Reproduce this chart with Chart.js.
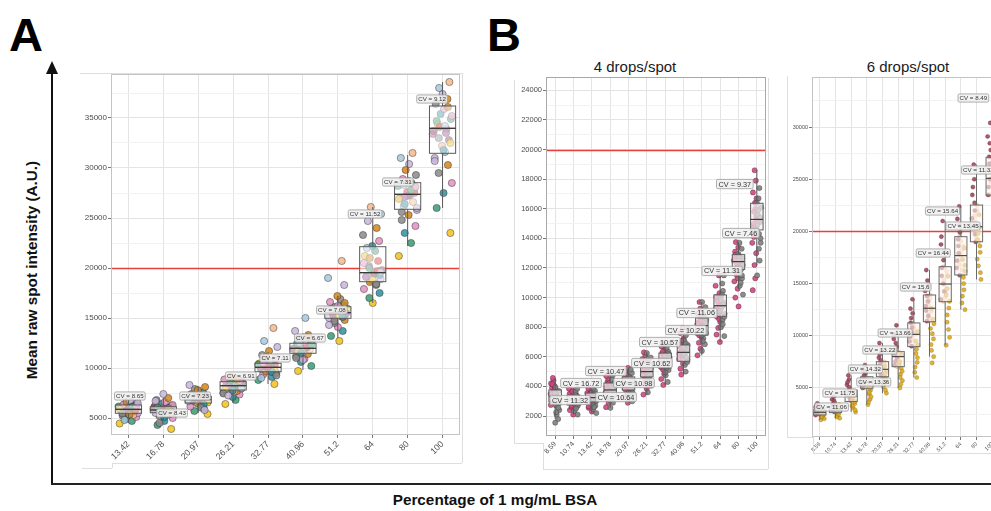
<!DOCTYPE html>
<html>
<head>
<meta charset="utf-8">
<script src="https://cdn.jsdelivr.net/npm/chart.js@4.4.0/dist/chart.umd.min.js"></script>
<style>
  body { margin: 0; width: 991px; height: 511px; overflow: hidden; background: #fff; position: relative;
         font-family: "Liberation Sans", Arial, sans-serif; }
  canvas, .txt, .ln { position: absolute; }
  .big { font-weight: bold; font-size: 47px; color: #000; line-height: 46px; }
  .ttl { font-size: 15px; color: #1a1a1a; text-align: center; width: 200px; line-height: 18px; }
  .axt { font-weight: bold; font-size: 15.3px; color: #111; white-space: nowrap; }
</style>
</head>
<body>
<div class="txt big" style="left:9px;top:12px;">A</div>
<div class="txt big" style="left:487px;top:12px;">B</div>
<div class="txt ttl" style="left:535px;top:58px;">4 drops/spot</div>
<div class="txt ttl" style="left:808px;top:58px;">6 drops/spot</div>
<div class="txt axt" style="left:32px;top:270px;transform:translate(-50%,-50%) rotate(-90deg);">Mean raw spot intensity (A.U.)</div>
<div class="txt axt" style="left:495px;top:500px;transform:translate(-50%,-50%);">Percentage of 1 mg/mL BSA</div>

<canvas id="chartA" width="410" height="420" style="left:60px;top:60px;"></canvas>
<canvas id="chartB1" width="280" height="410" style="left:500px;top:70px;"></canvas>
<canvas id="chartB2" width="250" height="410" style="left:770px;top:70px;"></canvas>

<script>
// categories (% of 1 mg/mL BSA)
const catsA = ['13.42', '16.78', '20.97', '26.21', '32.77', '40.96', '51.2', '64', '80', '100'];
const catsB = ['8.59', '10.74', '13.42', '16.78', '20.97', '26.21', '32.77', '40.96', '51.2', '64', '80', '100'];

// y tick labels
const yTicksA = [5000, 10000, 15000, 20000, 25000, 30000, 35000];
const yTicksB1 = [2000, 4000, 6000, 8000, 10000, 12000, 14000, 16000, 18000, 20000, 22000, 24000];
const yTicksB2 = [5000, 10000, 15000, 20000, 25000, 30000];
const threshold = 20000;

// Panel A: spot values per concentration
const pointsA = [
  [4450, 4700, 4900, 5100, 5250, 5400, 5500, 5600, 5700, 5800, 5850, 5950, 6050, 6150, 6250, 6350, 6450, 6600, 6750, 5650, 5300, 6000, 5550, 5750, 5900, 6100, 5200, 6200, 5450, 5350, 6500, 4800],
  [3900, 4300, 4700, 5000, 5200, 5350, 5500, 5600, 5700, 5800, 5900, 6000, 6100, 6250, 6400, 6600, 6800, 7000, 7400, 5750, 5450, 6150, 5650, 5850, 5550, 6050, 5100, 6300, 4500, 5950, 6700, 5400],
  [5400, 5700, 5950, 6150, 6300, 6450, 6600, 6700, 6800, 6900, 7000, 7100, 7250, 7400, 7550, 7700, 7900, 8100, 8300, 6850, 6650, 7150, 6750, 6950, 6550, 7050, 6350, 7300, 6050, 7800, 5800, 6850],
  [6400, 6800, 7100, 7350, 7550, 7700, 7850, 7950, 8100, 8200, 8300, 8400, 8500, 8650, 8750, 8850, 8950, 9100, 8250, 8050, 7650, 8550, 8150, 8350, 7900, 8450, 7750, 8700, 7450, 8900, 7250, 8000],
  [8400, 8800, 9100, 9350, 9500, 9650, 9800, 9900, 10000, 10100, 10200, 10300, 10450, 10600, 10800, 11000, 11300, 11700, 12100, 12700, 14000, 10050, 9950, 10150, 9750, 10350, 9600, 10500, 9250, 11100, 10700, 9000],
  [9700, 10200, 10600, 10900, 11200, 11400, 11550, 11700, 11850, 11950, 12050, 12150, 12300, 12450, 12600, 12800, 13000, 13300, 13700, 15000, 11800, 12250, 11900, 12100, 11650, 12350, 11500, 12650, 11000, 13100, 10800, 12500],
  [12700, 13200, 13700, 14100, 14500, 14800, 15000, 15200, 15400, 15500, 15650, 15800, 15950, 16100, 16300, 16600, 16900, 17200, 18300, 19000, 20700, 15300, 15450, 15700, 15250, 15900, 15100, 16200, 14700, 16500, 14300, 15600],
  [16500, 17000, 17500, 17900, 18300, 18600, 18900, 19200, 19500, 19800, 20200, 20700, 21200, 21700, 22200, 22700, 23300, 24000, 24700, 25400, 26100, 19400, 19100, 19700, 18800, 20000, 19300, 20500, 18400, 21000, 19600, 22000],
  [21200, 22500, 23500, 24200, 24800, 25300, 25800, 26200, 26600, 27000, 27300, 27600, 27900, 28200, 28500, 28900, 29300, 29800, 30400, 31000, 31500, 27200, 27100, 27500, 26900, 27800, 26400, 28100, 25600, 28700, 26000, 28300],
  [23500, 26000, 27500, 28500, 29500, 30300, 31000, 31600, 32200, 32800, 33400, 33900, 34400, 34900, 35400, 35900, 36400, 36900, 37400, 38000, 38600, 33700, 33500, 34100, 32500, 34700, 31800, 35200, 33000, 36100, 30700, 34200]
];
const q1A = [5470, 5530, 6500, 7800, 9630, 11470, 14970, 18630, 25870, 31470];
const medA = [5870, 5800, 6850, 8230, 10070, 11970, 15530, 19530, 27370, 33970];
const q3A = [6300, 6130, 7170, 8630, 10470, 12470, 16130, 22130, 28530, 36200];
const loA = [4500, 4700, 5500, 6500, 8400, 9800, 13000, 16500, 22200, 26000];
const hiA = [6800, 7000, 8100, 9100, 11600, 13500, 17200, 26100, 31300, 38600];
const cvA = ['8.65', '8.43', '7.23', '6.91', '7.11', '6.67', '7.08', '11.52', '7.31', '9.12'];
const cvPosXA = [0.04, 1.25, 1.91, 3.22, 4.2, 5.2, 5.83, 6.78, 7.72, 8.7];
const cvPosYA = [7200, 5500, 7200, 9200, 11000, 13000, 15800, 25400, 28600, 36900];

// Panel B, 4 drops/spot: two arrays (pink, grey)
const b1Pink = [
  [2750, 2950, 3150, 3300, 3450, 3600, 3750, 3900, 4050, 4200, 4400, 4570, 3350, 3500, 3700, 3050, 3850, 4150],
  [2100, 2400, 2600, 2800, 2950, 3100, 3250, 3400, 3550, 3700, 3850, 3000, 3050, 3200, 3350, 2700, 3500, 3650],
  [2300, 2550, 2750, 2950, 3100, 3250, 3400, 3550, 3700, 3850, 3200, 2850, 3000, 3150, 3300, 3450, 2650, 3600],
  [2600, 2900, 3150, 3400, 3600, 3800, 3950, 4100, 4300, 4500, 4700, 4900, 3700, 3850, 4000, 3500, 4200, 3300],
  [2900, 3250, 3550, 3800, 4000, 4200, 4350, 4500, 4650, 4850, 5050, 5250, 4100, 4250, 4400, 3900, 4600, 4750],
  [3450, 3850, 4200, 4500, 4750, 4950, 5150, 5350, 5600, 5850, 6100, 6300, 4850, 5050, 5250, 4650, 5450, 5700],
  [4100, 4500, 4850, 5150, 5400, 5600, 5800, 6000, 6250, 6500, 6700, 6900, 5500, 5700, 5900, 5300, 6100, 6350],
  [4800, 5200, 5550, 5850, 6100, 6300, 6500, 6700, 6950, 7250, 7600, 7950, 6200, 6400, 6600, 6000, 6800, 7100],
  [6100, 6550, 6950, 7300, 7600, 7850, 8100, 8350, 8600, 8900, 9250, 9700, 7950, 8200, 8450, 7700, 8700, 7450],
  [7000, 7500, 7950, 8350, 8700, 9000, 9300, 9600, 9900, 10300, 10800, 11500, 9150, 9450, 9750, 8850, 10050, 8550],
  [9400, 10000, 10600, 11100, 11500, 11900, 12200, 12500, 12800, 13100, 13400, 13750, 12300, 12600, 12050, 11750, 12900, 11300],
  [10500, 11300, 12200, 13000, 13700, 14300, 14800, 15300, 15800, 16400, 17100, 17900, 18600, 15000, 15500, 14600, 16000, 14100, 16700]
];
const b1Grey = [
  [1550, 1800, 2100, 2400, 2700, 2950, 3200, 3450, 3700, 3950, 3050, 3300, 2850, 3550, 2550, 2250],
  [2100, 2350, 2600, 2800, 3000, 3150, 3300, 3450, 3650, 3850, 2900, 3100, 3250, 2700, 3400, 2500],
  [2200, 2450, 2700, 2900, 3100, 3250, 3400, 3550, 3700, 3850, 3000, 3200, 3350, 2800, 3500, 2600],
  [2550, 2900, 3200, 3450, 3650, 3850, 4050, 4250, 4500, 4750, 3550, 3750, 3950, 3350, 4150, 3050],
  [3000, 3400, 3700, 3950, 4150, 4300, 4500, 4700, 4900, 5150, 4050, 4250, 4400, 3850, 4600, 3550],
  [3600, 4050, 4400, 4700, 4950, 5150, 5400, 5650, 5950, 6250, 4850, 5050, 5250, 4600, 5500, 4250],
  [4300, 4750, 5100, 5400, 5650, 5850, 6100, 6350, 6600, 6900, 5500, 5750, 5950, 5250, 6200, 4950],
  [5000, 5450, 5800, 6100, 6350, 6550, 6800, 7100, 7450, 7900, 6200, 6450, 6650, 5950, 6900, 5650],
  [6400, 6850, 7250, 7600, 7900, 8150, 8500, 8900, 9350, 9700, 7800, 8050, 8300, 7450, 8650, 7050],
  [7400, 8000, 8500, 8900, 9300, 9650, 10000, 10450, 10950, 11500, 9100, 9500, 9850, 8700, 10200, 8200],
  [10200, 10800, 11300, 11700, 12050, 12350, 12650, 12950, 13300, 13700, 12200, 12500, 11900, 12800, 11500, 11000],
  [11500, 12500, 13300, 14000, 14600, 15100, 15600, 16100, 16700, 17400, 14900, 15400, 14300, 15900, 13700, 16400]
];
const q1B1 = [2950, 2740, 2950, 3300, 3760, 4640, 5240, 5700, 7470, 8740, 11900, 14570];
const medB1 = [3300, 3080, 3240, 3760, 4230, 5000, 5670, 6300, 8100, 9450, 12430, 15280];
const q3B1 = [3760, 3420, 3550, 4230, 4640, 5580, 6250, 6800, 8620, 10180, 12900, 16370];
const cvB1 = ['11.32', '16.72', '10.64', '10.47', '10.98', '10.62', '10.57', '10.22', '11.06', '11.31', '7.46', '9.37'];
const cvPosXB1 = [0.81, 1.41, 3.32, 2.77, 4.3, 5.28, 5.71, 7.13, 7.73, 9.1, 10.13, 9.8];
const cvPosYB1 = [3080, 4230, 3280, 5040, 4230, 5580, 7000, 7810, 8960, 11800, 14360, 17670];

// Panel B, 6 drops/spot: three arrays (maroon, peach, gold)
const b2Maroon = [
  [2400, 2650, 2850, 3050, 3300, 3530, 2550, 2750, 2950, 3150],
  [2700, 3000, 3300, 3600, 3900, 4170, 2850, 3150, 3450, 3750],
  [3800, 4300, 4800, 5300, 5800, 6200, 4050, 4550, 5050, 5550],
  [5000, 5500, 5950, 6400, 6800, 7200, 5250, 5700, 6150, 6600],
  [6200, 6800, 7400, 7900, 8500, 9300, 6500, 7100, 7650, 8200],
  [7200, 7900, 8600, 9300, 10100, 11000, 7550, 8250, 8950, 9700],
  [9000, 9900, 10800, 11700, 12600, 13500, 9450, 10350, 11250, 12150],
  [11400, 12400, 13300, 14300, 15300, 16300, 11900, 12850, 13800, 14800],
  [13500, 15000, 16500, 18000, 19500, 21000, 14250, 15750, 17250, 18750],
  [15800, 17200, 18600, 19900, 21200, 22400, 16500, 17900, 19250, 20550],
  [19000, 20500, 22000, 23500, 25000, 26400, 19750, 21250, 22750, 24250],
  [23500, 25000, 26500, 27800, 29100, 30400, 24250, 25750, 27150, 28450]
];
const b2Peach = [
  [2400, 2550, 2700, 2850, 3000, 2480, 2620, 2780, 2920],
  [2650, 2800, 2950, 3100, 3250, 2720, 2880, 3030, 3180],
  [3700, 3950, 4200, 4450, 4750, 3820, 4080, 4320, 4600],
  [5000, 5250, 5500, 5750, 6050, 5120, 5380, 5620, 5900],
  [6100, 6450, 6800, 7150, 7500, 6280, 6620, 6980, 7320],
  [7050, 7500, 8000, 8300, 8450, 7280, 7750, 8150, 8380],
  [9000, 9600, 10150, 10700, 11200, 9300, 9880, 10420, 10950],
  [11400, 12000, 12650, 13300, 13900, 11700, 12320, 12980, 13600],
  [13300, 14100, 14950, 15800, 16600, 13700, 14520, 15380, 16200],
  [15850, 16800, 17700, 18600, 19500, 16320, 17250, 18150, 19050],
  [19000, 19800, 20500, 21500, 22500, 19400, 20150, 21000, 22000],
  [23500, 24300, 25100, 26100, 27100, 23900, 24700, 25600, 26600]
];
const b2Gold = [
  [1950, 2150, 2350, 2550, 2750, 2950, 2050, 2250, 2450, 2650],
  [2100, 2350, 2600, 2850, 3100, 3400, 2220, 2480, 2720, 2980],
  [2700, 3100, 3500, 3900, 4300, 4700, 2900, 3300, 3700, 4100],
  [3400, 3900, 4400, 4800, 5200, 5600, 3650, 4150, 4600, 5000],
  [4500, 5100, 5600, 6100, 6600, 7100, 4800, 5350, 5850, 6350],
  [5000, 5700, 6300, 6900, 7500, 8200, 5350, 6000, 6600, 7200],
  [6000, 7000, 7900, 8700, 9500, 10400, 6500, 7450, 8300, 9100],
  [7400, 8600, 9700, 10700, 11600, 12600, 8000, 9150, 10200, 11150],
  [9100, 10600, 12000, 13300, 14500, 15700, 9850, 11300, 12650, 13900],
  [12500, 13800, 15000, 16200, 17300, 18400, 13150, 14400, 15600, 16750],
  [15400, 16700, 18000, 19200, 20400, 21600, 16050, 17350, 18600, 19800],
  [20300, 21500, 22700, 23800, 24900, 26000, 20900, 22100, 23250, 24350]
];
const q1B2 = [2410, 2640, 3700, 4970, 6080, 7040, 8960, 11350, 13270, 15830, 19010, 23490];
const medB2 = [2670, 2890, 4200, 5510, 6790, 8000, 10140, 12640, 14960, 17680, 20450, 25090];
const q3B2 = [2960, 3210, 4800, 6080, 7520, 8480, 11230, 13910, 16620, 19500, 22530, 27100];
const cvB2 = ['11.06', '11.75', '14.32', '13.36', '13.22', '13.66', '15.6', '16.44', '15.64', '13.45', '11.32', '8.49'];
const cvPosXB2 = [0.75, 1.27, 2.91, 3.44, 3.83, 4.81, 6.12, 7.24, 7.83, 9.14, 10.12, 9.8];
const cvPosYB2 = [3175, 4517, 6817, 5571, 8637, 10266, 14675, 17933, 21958, 20520, 25887, 32786];

const FONT = '"Liberation Sans", Arial, sans-serif';
const palA = ['#f2c21b', '#3a9b72', '#2f8fa0', '#e38fc0', '#8a8a8a', '#d2861e', '#c9b6dc', '#a8c8dc', '#f4b98c', '#8c3c55', '#9a4f9c', '#d8262a'];
// jitter pattern (layout only)
const JIT = [-0.9, 0.35, -0.3, 0.8, -0.6, 0.1, 0.95, -0.4, 0.55, -0.8, 0.25, -0.05, 0.65, -1, 0.4, -0.5, 0.85, -0.2, 0.15, -0.7, 0.5, 0, -0.35, 0.7];

function jitter(groups, off, spread, colorFn) {
  const pts = [];
  groups.forEach((vals, i) => {
    vals.forEach((v, k) => {
      pts.push({ x: i + off + JIT[(k + i * 3) % JIT.length] * spread, y: v, c: colorFn(k, i) });
    });
  });
  return pts;
}

// whiskers from the points within 1.5 IQR
function whiskers(groupsList, q1, q3) {
  const lo = [], hi = [];
  q1.forEach((a, i) => {
    const all = [].concat(...groupsList.map(g => g[i]));
    const iqr = q3[i] - a;
    const inside = all.filter(v => v >= a - 1.5 * iqr && v <= q3[i] + 1.5 * iqr);
    lo.push(Math.min(...inside));
    hi.push(Math.max(...inside));
  });
  return { lo, hi };
}

const boxPlugin = {
  id: 'boxes',
  beforeDatasetsDraw(chart, args, o) {
    const { ctx, chartArea: a, scales: { y } } = chart;
    const ry = Math.round(y.getPixelForValue(o.ref)) + 0.5;
    ctx.save();
    ctx.strokeStyle = '#e8413c';
    ctx.lineWidth = 1.3;
    ctx.beginPath();
    ctx.moveTo(a.left, ry);
    ctx.lineTo(a.right, ry);
    ctx.stroke();
    ctx.restore();
  },
  afterDatasetsDraw(chart, args, o) {
    const { ctx, chartArea: a, scales: { x, y } } = chart;
    ctx.save();
    ctx.beginPath();
    ctx.rect(a.left, a.top, a.right - a.left, a.bottom - a.top);
    ctx.clip();
    o.med.forEach((m, i) => {
      const cx = x.getPixelForValue(i);
      const hw = x.getPixelForValue(i + o.width / 2) - cx;
      const top = y.getPixelForValue(o.q3[i]);
      const bot = y.getPixelForValue(o.q1[i]);
      ctx.strokeStyle = o.line;
      ctx.lineWidth = 1;
      ctx.beginPath();
      ctx.moveTo(cx, y.getPixelForValue(o.hi[i]));
      ctx.lineTo(cx, top);
      ctx.moveTo(cx, bot);
      ctx.lineTo(cx, y.getPixelForValue(o.lo[i]));
      ctx.stroke();
      ctx.fillStyle = o.fill;
      ctx.fillRect(cx - hw, top, 2 * hw, bot - top);
      ctx.strokeRect(cx - hw, top, 2 * hw, bot - top);
      const my = y.getPixelForValue(m);
      ctx.strokeStyle = '#3a3a3a';
      ctx.lineWidth = o.medW;
      ctx.beginPath();
      ctx.moveTo(cx - hw, my);
      ctx.lineTo(cx + hw, my);
      ctx.stroke();
    });
    ctx.font = o.fs + 'px ' + FONT;
    ctx.textAlign = 'center';
    ctx.textBaseline = 'middle';
    o.cv.forEach((c, i) => {
      const t = 'CV = ' + c;
      const px = x.getPixelForValue(o.cvX[i]);
      const py = y.getPixelForValue(o.cvY[i]);
      const w = ctx.measureText(t).width + o.pad * 2;
      const h = o.fs + 2;
      ctx.beginPath();
      ctx.roundRect(px - w / 2, py - h / 2, w, h, 1.5);
      ctx.fillStyle = 'rgba(240,240,240,0.88)';
      ctx.fill();
      ctx.strokeStyle = '#9c9c9c';
      ctx.lineWidth = 0.8;
      ctx.stroke();
      ctx.fillStyle = '#333';
      ctx.fillText(t, px, py + 0.5);
    });
    ctx.restore();
    ctx.save();
    ctx.strokeStyle = o.frame;
    ctx.lineWidth = 1;
    ctx.strokeRect(a.left + 0.5, a.top + 0.5, a.right - a.left - 1, a.bottom - a.top - 1);
    ctx.restore();
  }
};

function yAxis(min, max, labeled, minor, width, size) {
  return {
    type: 'linear', min, max,
    afterBuildTicks: s => {
      const t = [];
      labeled.forEach(v => { t.push({ value: v - minor }); t.push({ value: v }); });
      t.push({ value: labeled[labeled.length - 1] + minor });
      s.ticks = t.filter(o => o.value > min && o.value < max);
    },
    afterFit: s => { s.width = width; },
    ticks: { callback: v => labeled.includes(v) ? String(v) : '', font: { size, family: FONT }, color: '#4d4d4d', padding: 1 },
    grid: {
      color: c => labeled.includes(c.tick.value) ? '#e4e4e4' : '#f2f2f2',
      tickColor: c => labeled.includes(c.tick.value) ? '#777' : 'rgba(0,0,0,0)',
      tickLength: 3
    },
    border: { display: false }
  };
}

function xAxis(cats, height, size) {
  return {
    type: 'linear', min: -0.5, max: cats.length - 0.5,
    afterBuildTicks: s => { s.ticks = cats.map((c, i) => ({ value: i })); },
    afterFit: s => { s.height = height; },
    ticks: { callback: v => cats[v], minRotation: 45, maxRotation: 45, autoSkip: false, font: { size, family: FONT }, color: '#4d4d4d', padding: 1 },
    grid: { color: '#e4e4e4', tickColor: '#777', tickLength: 3 },
    border: { display: false }
  };
}

function ds(data, r, border, bw) {
  return {
    data, pointRadius: r, pointHoverRadius: r, borderWidth: bw, pointBorderWidth: bw,
    backgroundColor: c => c.raw ? c.raw.c : '#000',
    borderColor: border
  };
}

function makeChart(id, datasets, xa, ya, pad, box) {
  return new Chart(document.getElementById(id), {
    type: 'scatter',
    data: { datasets },
    options: {
      responsive: false, animation: false, events: [],
      layout: { padding: pad },
      scales: { x: xa, y: ya },
      plugins: { legend: { display: false }, tooltip: { enabled: false }, boxes: box }
    },
    plugins: [boxPlugin]
  });
}

// Panel A
makeChart('chartA',
  [ds(jitter(pointsA, 0, 0.28, (k) => palA[k % palA.length] + 'd9'), 3.6, 'rgba(40,40,40,0.75)', 0.6)],
  xAxis(catsA, 45, 8.8), yAxis(3300, 39400, yTicksA, 2500, 51, 8),
  { top: 14, right: 10, left: 0, bottom: 0 },
  { ref: threshold, q1: q1A, med: medA, q3: q3A, lo: loA, hi: hiA, width: 0.75, fill: 'rgba(255,255,255,0.55)',
    line: '#5a5a5a', medW: 1.4, cv: cvA, cvX: cvPosXA, cvY: cvPosYA, fs: 6.2, pad: 1.5, frame: '#c4c4c4' });

// Panel B, 4 drops/spot
const wB1 = whiskers([b1Pink, b1Grey], q1B1, q3B1);
makeChart('chartB1',
  [ds(jitter(b1Grey, 0.12, 0.13, () => 'rgba(128,128,128,0.9)'), 2.6, 'rgba(50,50,50,0.7)', 0.5),
   ds(jitter(b1Pink, -0.12, 0.13, () => 'rgba(206,72,128,0.9)'), 2.6, 'rgba(60,30,40,0.7)', 0.5)],
  xAxis(catsB, 44, 7), yAxis(650, 24900, yTicksB1, 1000, 46, 7.5),
  { top: 7, right: 14, left: 0, bottom: 0 },
  { ref: threshold, q1: q1B1, med: medB1, q3: q3B1, lo: wB1.lo, hi: wB1.hi, width: 0.68, fill: 'rgba(245,238,241,0.7)',
    line: '#5a5a5a', medW: 1.2, cv: cvB1, cvX: cvPosXB1, cvY: cvPosYB1, fs: 7.3, pad: 2, frame: '#a8a8a8' });

// Panel B, 6 drops/spot
const wB2 = whiskers([b2Maroon, b2Peach, b2Gold], q1B2, q3B2);
makeChart('chartB2',
  [ds(jitter(b2Gold, 0.17, 0.12, () => 'rgba(220,172,30,0.9)'), 2.1, 'rgba(120,90,20,0.7)', 0.4),
   ds(jitter(b2Maroon, -0.17, 0.12, () => 'rgba(160,72,92,0.9)'), 2.1, 'rgba(80,30,40,0.7)', 0.4),
   ds(jitter(b2Peach, 0, 0.15, () => 'rgba(244,200,165,0.85)'), 2.1, 'rgba(200,150,110,0.6)', 0.4)],
  xAxis(catsB, 43, 5.5), yAxis(300, 34800, yTicksB2, 2500, 42, 5.5),
  { top: 7, right: 20, left: 0, bottom: 0 },
  { ref: threshold, q1: q1B2, med: medB2, q3: q3B2, lo: wB2.lo, hi: wB2.hi, width: 0.78, fill: 'rgba(255,245,238,0.6)',
    line: '#6a6a6a', medW: 1.1, cv: cvB2, cvX: cvPosXB2, cvY: cvPosYB2, fs: 6.2, pad: 1.5, frame: '#c4c4c4' });

// panel frames and the shared axes arrows
function line(x1, y1, x2, y2, color, w) {
  const d = document.createElement('div');
  d.className = 'ln';
  d.style.left = Math.min(x1, x2) + 'px';
  d.style.top = Math.min(y1, y2) + 'px';
  d.style.width = (x1 === x2 ? w : Math.abs(x2 - x1)) + 'px';
  d.style.height = (y1 === y2 ? w : Math.abs(y2 - y1)) + 'px';
  d.style.background = color;
  document.body.appendChild(d);
}
const fr = '#dedede';
line(80, 73, 462, 73, fr, 1); line(462, 73, 462, 463, fr, 1); line(112, 463, 462, 463, fr, 1);
line(112, 463, 112, 468, fr, 1); line(82, 468, 112, 468, fr, 1);
line(514, 80, 514, 443, fr, 1); line(514, 443, 543, 443, fr, 1); line(543, 443, 543, 469, fr, 1);
line(543, 469, 768, 469, fr, 1); line(768, 78, 768, 469, fr, 1);
line(787, 76, 787, 437, fr, 1); line(787, 437, 813, 437, fr, 1); line(813, 437, 813, 453, fr, 1);
line(813, 453, 991, 453, fr, 1);
line(51, 72, 51, 485, '#111', 2);
line(51, 483, 991, 483, '#222', 2);
const head = document.createElement('div');
head.className = 'ln';
head.style.cssText = 'left:46px;top:61px;width:0;height:0;border-left:6px solid transparent;border-right:6px solid transparent;border-bottom:13px solid #111;';
document.body.appendChild(head);
</script>
</body>
</html>
